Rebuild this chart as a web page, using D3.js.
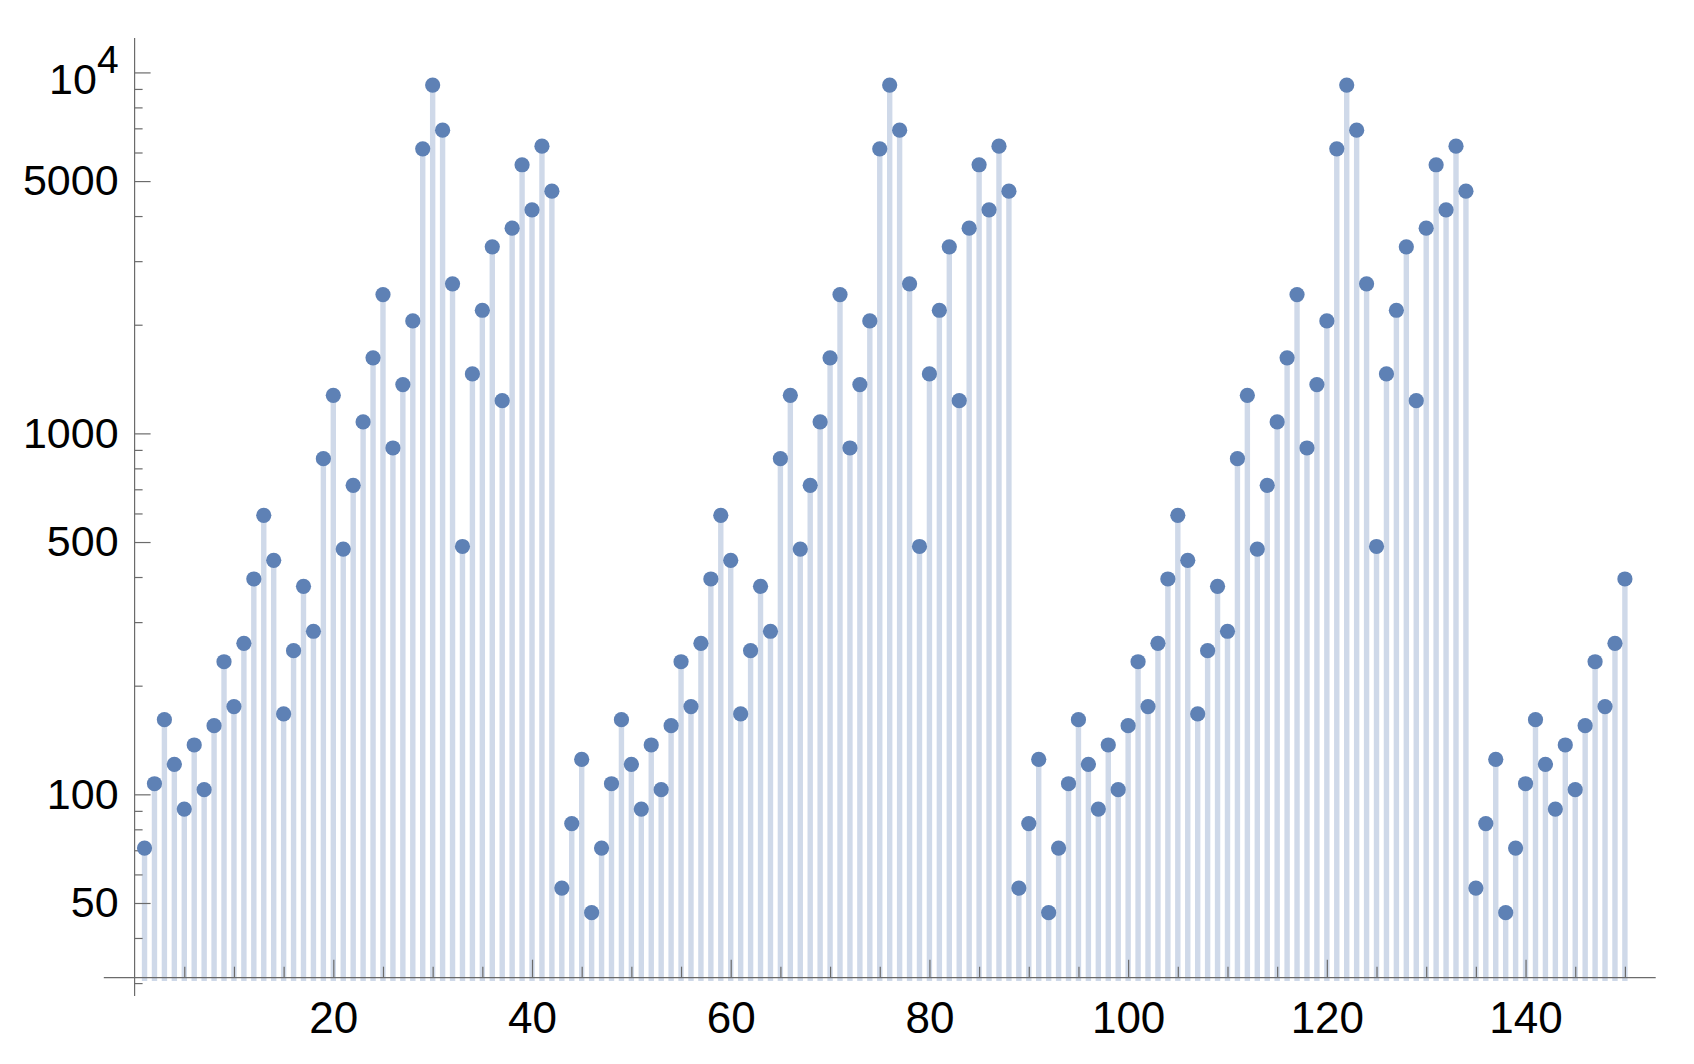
<!DOCTYPE html>
<html>
<head>
<meta charset="utf-8">
<script src="https://cdn.jsdelivr.net/npm/d3@7"></script>
<style>
  body { margin: 0; background: #fff; }
  text { font-family: "Liberation Sans", Arial, sans-serif; fill: #000; }
</style>
</head>
<body>
<svg width="1694" height="1064"></svg>
<script>
// values for n = 1..150
var values = [
  71, 107, 161, 121, 91, 137, 103, 155, 233, 175, 262, 395, 593, 445, 167, 250,
  377, 283, 851, 1275, 478, 718, 1076, 1619, 2424, 911, 1365, 2049, 6143, 9222,
  6918, 2596, 486, 1461, 2193, 3287, 1232, 3702, 5548, 4163, 6246, 4688, 55, 83, 125, 47,
  71, 107, 161, 121, 91, 137, 103, 155, 233, 175, 262, 395, 593, 445, 167, 250,
  377, 283, 851, 1275, 478, 718, 1076, 1619, 2424, 911, 1365, 2049, 6143, 9222,
  6918, 2596, 486, 1461, 2193, 3287, 1232, 3702, 5548, 4163, 6246, 4688, 55, 83, 125, 47,
  71, 107, 161, 121, 91, 137, 103, 155, 233, 175, 262, 395, 593, 445, 167, 250,
  377, 283, 851, 1275, 478, 718, 1076, 1619, 2424, 911, 1365, 2049, 6143, 9222,
  6918, 2596, 486, 1461, 2193, 3287, 1232, 3702, 5548, 4163, 6246, 4688, 55, 83, 125, 47,
  71, 107, 161, 121, 91, 137, 103, 155, 233, 175, 262, 395
];
var xMajor = [20, 40, 60, 80, 100, 120, 140];
var xMinor = [5, 10, 15, 25, 30, 35, 45, 50, 55, 65, 70, 75, 85, 90, 95, 105, 110, 115, 125, 130, 135, 145, 150];
var yMajor = [50, 100, 500, 1000, 5000, 10000];
var yMinor = [30, 40, 60, 70, 80, 90, 200, 300, 400, 600, 700, 800, 900,
              2000, 3000, 4000, 6000, 7000, 8000, 9000];

var svg = d3.select("svg");

var x = d3.scaleLinear()
    .domain([0, 153.1])
    .range([134.6, 1655.7]);

var y = d3.scaleLog()
    .domain([30.4, 12455])
    .range([981, 38]);

var yOrigin = 31.05;   // where the horizontal axis crosses
var fill = "#cfd9e9",
    dot = "#5e81b5",
    axisColor = "#6b6b6b";

// stems
svg.append("g")
  .selectAll("rect")
  .data(values)
  .enter().append("rect")
    .attr("x", function(d, i) { return x(i + 1) - 2.7; })
    .attr("width", 5.4)
    .attr("y", function(d) { return y(d); })
    .attr("height", function(d) { return y.range()[0] - y(d); })
    .attr("fill", fill);

// x axis
var gx = svg.append("g")
    .attr("transform", "translate(0," + y(yOrigin) + ")");

gx.append("g")
    .call(d3.axisBottom(x).tickValues(xMinor).tickSize(-11).tickFormat(""))
  .call(function(g) { g.select(".domain").remove(); });

gx.append("g")
    .call(d3.axisBottom(x).tickValues(xMajor).tickSize(-18).tickPadding(24))
  .call(function(g) { g.select(".domain").remove(); })
  .selectAll("text")
    .attr("font-size", 44)
    .attr("font-family", "Liberation Sans, Arial, sans-serif");

gx.append("line")
    .attr("x1", x(-3.1))
    .attr("x2", x.range()[1])
    .attr("stroke", axisColor)
    .attr("stroke-width", 1.2);

// y axis
var gy = svg.append("g")
    .attr("transform", "translate(" + x(0) + ",0)");

gy.append("g")
    .call(d3.axisLeft(y).tickValues(yMinor).tickSize(-8).tickFormat(""))
  .call(function(g) { g.select(".domain").remove(); });

gy.append("g")
    .call(d3.axisLeft(y).tickValues(yMajor).tickSize(-16).tickPadding(16)
      .tickFormat(function(d) { return d === 10000 ? "" : d; }))
  .call(function(g) { g.select(".domain").remove(); })
  .selectAll("text")
    .attr("font-size", 43)
    .attr("font-family", "Liberation Sans, Arial, sans-serif")
    .each(function(d) {
      if (d !== 10000) return;
      var t = d3.select(this).attr("dy", "0.5em");
      t.append("tspan").text("10");
      t.append("tspan").attr("font-size", 39).attr("dy", "-0.55em").text("4");
    });

gy.append("line")
    .attr("y1", y.range()[1])
    .attr("y2", y.range()[0] + 15)
    .attr("stroke", axisColor)
    .attr("stroke-width", 1.2);

svg.selectAll(".tick line")
    .attr("stroke", axisColor)
    .attr("stroke-width", 1.2);

// points
svg.append("g")
  .selectAll("circle")
  .data(values)
  .enter().append("circle")
    .attr("cx", function(d, i) { return x(i + 1); })
    .attr("cy", function(d) { return y(d); })
    .attr("r", 7.6)
    .attr("fill", dot);
</script>
</body>
</html>
